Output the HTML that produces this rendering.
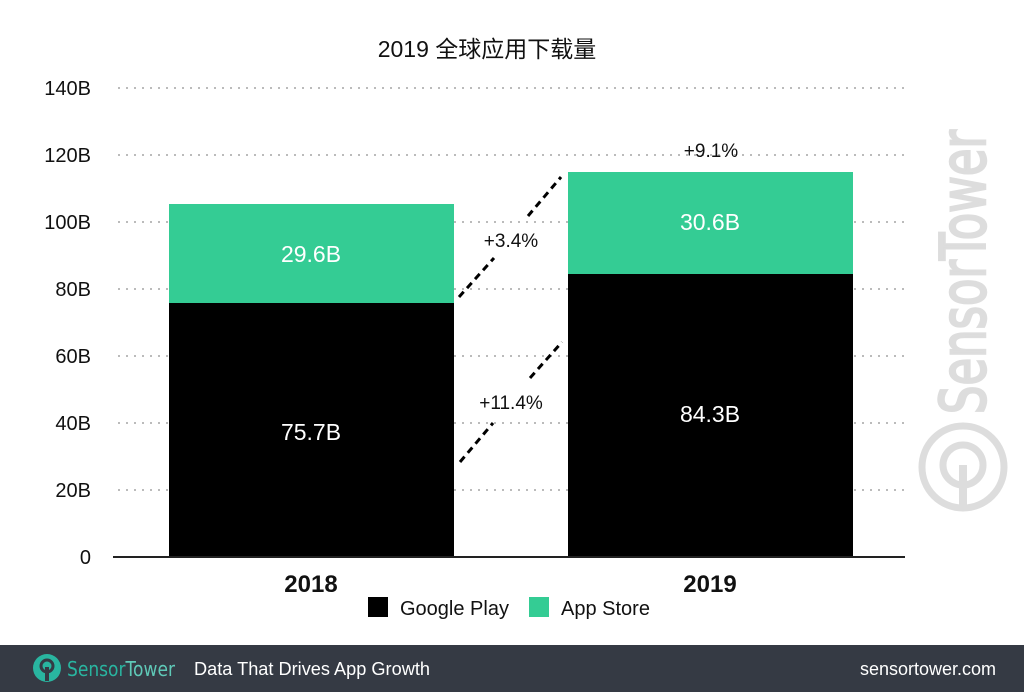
<!DOCTYPE html>
<html><head><meta charset="utf-8"><style>
body{margin:0;width:1024px;height:692px;background:#fff;overflow:hidden;position:relative;font-family:"Liberation Sans","Noto Sans CJK SC",sans-serif}
</style></head><body>
<svg width="1024" height="692" style="position:absolute;left:0;top:0" font-family="Liberation Sans, Noto Sans CJK SC, sans-serif">
<text x="487" y="57" font-size="23" text-anchor="middle" fill="#111">2019 全球应用下载量</text>
<g stroke="#bbb" stroke-width="2" stroke-dasharray="2,6">
<line x1="118" y1="88" x2="905" y2="88"/><line x1="118" y1="155" x2="905" y2="155"/><line x1="118" y1="222" x2="905" y2="222"/><line x1="118" y1="289" x2="905" y2="289"/><line x1="118" y1="356" x2="905" y2="356"/><line x1="118" y1="423" x2="905" y2="423"/><line x1="118" y1="490" x2="905" y2="490"/>
</g>
<g font-size="20" fill="#111" text-anchor="end">
<text x="91" y="95">140B</text><text x="91" y="162">120B</text><text x="91" y="229">100B</text><text x="91" y="296">80B</text><text x="91" y="363">60B</text><text x="91" y="430">40B</text><text x="91" y="497">20B</text><text x="91" y="564">0</text>
</g>
<!-- watermark -->
<text transform="translate(985,414) rotate(-90)" font-size="62" fill="#ddd" stroke="#ddd" stroke-width="2.5" font-family="DejaVu Sans, sans-serif" textLength="284" lengthAdjust="spacingAndGlyphs">SensorTower</text>
<circle cx="963" cy="467" r="41" fill="none" stroke="#ddd" stroke-width="7"/>
<circle cx="963" cy="465" r="20" fill="none" stroke="#ddd" stroke-width="7"/>
<rect x="959" y="465" width="8" height="45" fill="#ddd"/>
<rect x="169" y="204" width="285" height="99" fill="#34cc94"/>
<rect x="169" y="303" width="285" height="254" fill="#000"/>
<rect x="568" y="172" width="285" height="102" fill="#34cc94"/>
<rect x="568" y="274" width="285" height="283" fill="#000"/>
<line x1="113" y1="557" x2="905" y2="557" stroke="#222" stroke-width="2"/>
<g font-size="23" fill="#fff" text-anchor="middle">
<text x="311" y="262">29.6B</text><text x="311" y="440">75.7B</text>
<text x="710" y="230">30.6B</text><text x="710" y="422">84.3B</text>
</g>
<g stroke="#000" stroke-width="3" stroke-dasharray="7,5">
<line x1="459" y1="297" x2="494" y2="258"/>
<line x1="528" y1="216" x2="561" y2="177"/>
<line x1="460" y1="462" x2="493" y2="423"/>
<line x1="530" y1="378" x2="562" y2="342"/>
</g>
<g font-size="19" fill="#111" text-anchor="middle">
<text x="511" y="247">+3.4%</text><text x="511" y="409">+11.4%</text><text x="711" y="157">+9.1%</text>
</g>
<g font-size="24" font-weight="bold" fill="#111" text-anchor="middle">
<text x="311" y="592">2018</text><text x="710" y="592">2019</text>
</g>
<rect x="368" y="597" width="20" height="20" fill="#000"/>
<text x="400" y="615" font-size="20" fill="#111">Google Play</text>
<rect x="529" y="597" width="20" height="20" fill="#34cc94"/>
<text x="561" y="615" font-size="20" fill="#111">App Store</text>
<rect x="0" y="645" width="1024" height="47" fill="#353a44"/>
<circle cx="47" cy="668" r="14" fill="#29b5a0"/>
<circle cx="47" cy="666" r="6" fill="none" stroke="#353a44" stroke-width="3"/>
<rect x="45" y="667" width="4" height="14" fill="#353a44"/>
<text x="67" y="676" font-size="20" fill="#29b5a0" font-family="DejaVu Sans, sans-serif" textLength="108" lengthAdjust="spacingAndGlyphs">Sensor<tspan fill="#5fc9b8">Tower</tspan></text>
<text x="194" y="675" font-size="18" fill="#fff" textLength="236" lengthAdjust="spacingAndGlyphs">Data That Drives App Growth</text>
<text x="996" y="675" font-size="18" fill="#fff" text-anchor="end">sensortower.com</text>
</svg>
</body></html>
